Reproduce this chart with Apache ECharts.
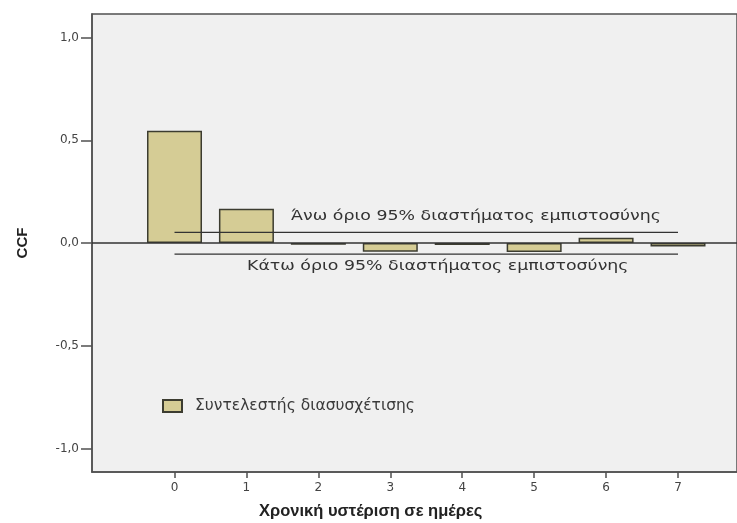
<!DOCTYPE html>
<html>
<head>
<meta charset="utf-8">
<script src="https://cdn.jsdelivr.net/npm/echarts@6/dist/echarts.min.js"></script>
<style>
html,body{margin:0;padding:0;background:#fff;}
#chart{width:737px;height:523px;}
</style>
</head>
<body>
<div id="chart"></div>
<script>
const lags = [0, 1, 2, 3, 4, 5, 6, 7];
const ccfValues = [0.546, 0.167, -0.008, -0.042, -0.010, -0.044, 0.026, -0.017];
const upperLimit = [0.052, 0.052, 0.052, 0.052, 0.052, 0.052, 0.052, 0.052];
const lowerLimit = [-0.054, -0.054, -0.054, -0.054, -0.054, -0.054, -0.054, -0.054];
const yTicks = [-1.0, -0.5, 0.0, 0.5, 1.0];
const xTicks = [0, 1, 2, 3, 4, 5, 6, 7];
const seriesName = 'Συντελεστής διασυσχέτισης';
const upperText = 'Άνω όριο 95% διαστήματος εμπιστοσύνης';
const lowerText = 'Κάτω όριο 95% διαστήματος εμπιστοσύνης';
const xTitle = 'Χρονική υστέριση σε ημέρες';
const yTitle = 'CCF';

const chart = echarts.init(document.getElementById('chart'));
const fmt = v => (Math.abs(v) < 1e-9 ? 0 : v).toFixed(1).replace('.', ',');

chart.setOption({
  animation: false,
  backgroundColor: '#ffffff',
  grid: {
    left: 92, right: 0, top: 14, bottom: 51,
    show: true, backgroundColor: '#f0f0f0', borderColor: '#505050', borderWidth: 1.5
  },
  xAxis: {
    type: 'value', min: -1.147, max: 7.82,
    splitLine: { show: false },
    axisLine: { show: true, onZero: false, lineStyle: { color: '#505050', width: 1.5 } },
    axisTick: { show: true, customValues: xTicks, length: 6, lineStyle: { color: '#505050', width: 1.5 } },
    axisLabel: { customValues: xTicks, color: '#444', fontFamily: 'DejaVu Sans', fontSize: 12, margin: 10 }
  },
  yAxis: {
    type: 'value', min: -1.115, max: 1.115,
    name: yTitle, nameLocation: 'middle', nameGap: 62, nameRotate: 90,
    nameTextStyle: { fontFamily: 'Liberation Sans', fontWeight: 'bold', fontSize: 15, color: '#222' },
    splitLine: { show: false },
    axisLine: { show: true, onZero: false, lineStyle: { color: '#505050', width: 1.5 } },
    axisTick: { show: true, inside: false, customValues: yTicks, length: 11, lineStyle: { color: '#505050', width: 1.5 } },
    axisLabel: { customValues: yTicks, formatter: fmt, color: '#444', fontFamily: 'DejaVu Sans', fontSize: 12, margin: 13 }
  },
  legend: {
    left: 157, top: 393,
    itemWidth: 19, itemHeight: 12, icon: 'rect',
    data: [seriesName],
    textStyle: { fontFamily: 'DejaVu Sans', fontSize: 15.5, color: '#3a3a3a', padding: [0, 0, 0, 8] }
  },
  series: [
    {
      name: seriesName, type: 'bar', barWidth: 55,
      data: lags.map((l, i) => [l, ccfValues[i]]),
      itemStyle: { color: '#d5cc95', borderColor: '#3c3c30', borderWidth: 1.5 },
      markLine: {
        silent: true, symbol: 'none', label: { show: false },
        lineStyle: { color: '#333', width: 1.5, type: 'solid' },
        data: [{ yAxis: 0 }]
      },
      z: 3
    },
    {
      name: 'upper', type: 'line', showSymbol: false, symbol: 'none',
      data: lags.map((l, i) => [l, upperLimit[i]]),
      lineStyle: { color: '#333', width: 1.2 }, z: 4
    },
    {
      name: 'lower', type: 'line', showSymbol: false, symbol: 'none',
      data: lags.map((l, i) => [l, lowerLimit[i]]),
      lineStyle: { color: '#333', width: 1.2 }, z: 4
    }
  ],
  graphic: [
    { type: 'text', x: 291, y: 209, scaleX: 1.24, style: { text: upperText, font: '14px "DejaVu Sans"', fill: '#333' } },
    { type: 'text', x: 247, y: 259, scaleX: 1.24, style: { text: lowerText, font: '14px "DejaVu Sans"', fill: '#333' } },
    { type: 'text', x: 259, y: 503, style: { text: xTitle, font: 'bold 16.5px "Liberation Sans"', fill: '#222' } }
  ]
});
</script>
</body>
</html>
